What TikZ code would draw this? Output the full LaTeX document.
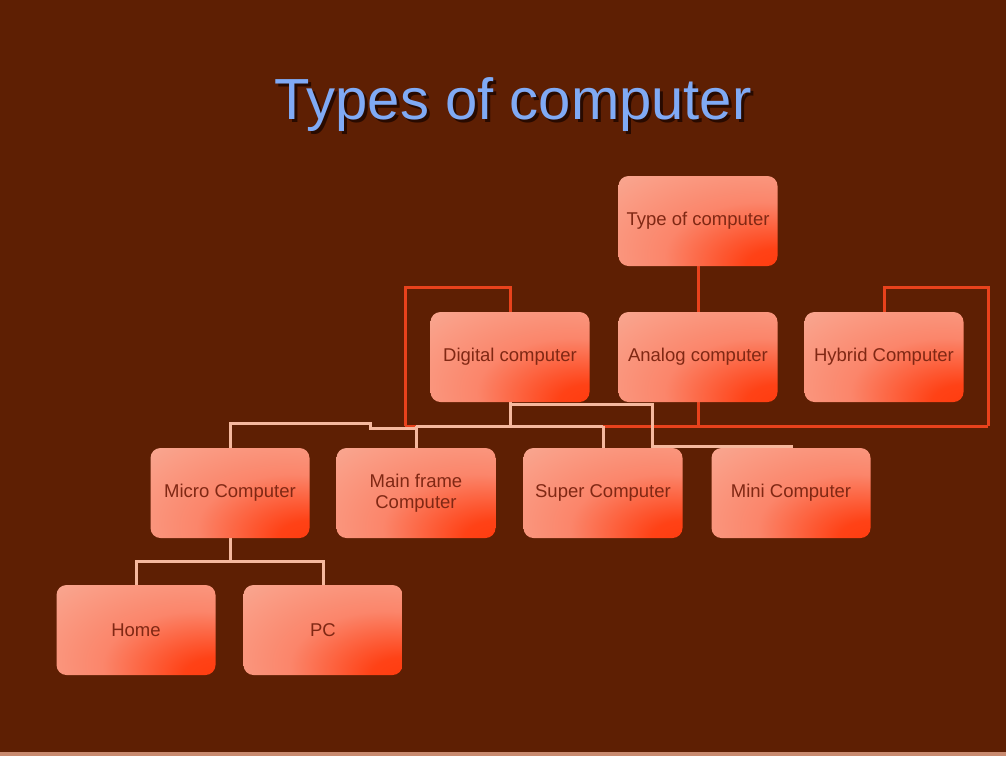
\documentclass[tikz,border=0pt]{standalone}
\usepackage{fontspec}
\setmainfont{Liberation Sans}
\definecolor{bg}{RGB}{94,31,3}
\definecolor{redline}{RGB}{232,66,28}
\definecolor{lightline}{RGB}{245,184,158}
\definecolor{boxdark}{RGB}{255,58,12}
\definecolor{boxmid}{RGB}{252,110,80}
\definecolor{boxlight}{RGB}{249,168,146}
\definecolor{boxtext}{RGB}{128,40,20}
\definecolor{titleblue}{RGB}{128,170,245}
\definecolor{titleshadow}{RGB}{40,10,0}
\pgfdeclareradialshading{boxshade}{\pgfpoint{28bp}{-28bp}}{color(0bp)=(boxdark); color(10bp)=(boxdark!85!boxmid); color(30bp)=(boxmid!60!boxlight); color(55bp)=(boxlight); color(100bp)=(boxlight)}
\newcommand{\shadowtext}[1]{\makebox[0pt][l]{\hspace{3pt}\raisebox{-3pt}{\color{titleshadow}#1}}#1}
\tikzset{
  cbox/.style={rounded corners=10pt, shading=boxshade, minimum width=159pt, minimum height=90pt,
    font=\fontsize{18.5}{21}\selectfont, text=boxtext, align=center, inner sep=2pt},
  redc/.style={draw=redline, line width=3pt},
  lightc/.style={draw=lightline, line width=3pt},
}
\begin{document}
\begin{tikzpicture}[x=1pt,y=-1pt]
\fill[bg] (0,0) rectangle (1006,756);
\useasboundingbox (0,0) rectangle (1006,756);
\fill[lightline!70!bg] (0,752) rectangle (1006,756);
% title
\node (title) [text=titleblue, font=\fontsize{58}{60}\selectfont] at (513,106) {\shadowtext{Types of computer}};
% coordinates for node centres
\coordinate (pr) at (698,221);
\coordinate (pd) at (510,357);
\coordinate (pa) at (698,357);
\coordinate (ph) at (884,357);
\coordinate (pmi) at (230,493);
\coordinate (pmf) at (416,493);
\coordinate (ps) at (603,493);
\coordinate (pmn) at (791,493);
\coordinate (pho) at (136,630);
\coordinate (ppc) at (323,630);
% bend points
\coordinate (hubL) at (405,426);
\coordinate (hubR) at (988,426);
\coordinate (topL) at (405,287);
\coordinate (topR) at (988,287);
\coordinate (busD) at (510,426);
\coordinate (stepA) at (370,428);
\coordinate (stepB) at (370,423);
\coordinate (mic) at (230,423);
\coordinate (miniA) at (510,404);
\coordinate (miniB) at (652,404);
\coordinate (miniC) at (652,446);
\coordinate (microBus) at (230,561);
% connectors (drawn first, boxes on top)
\draw[redc] (pr) -- (pa |- hubL);
\draw[redc] (hubL) -- (hubR);
\draw[redc] (hubL) -- (topL) -| (pd);
\draw[redc] (hubR) -- (topR) -| (ph);
\draw[lightc] (pd) -- (busD);
\draw[lightc] (pmf |- busD) -- (ps |- busD);
\draw[lightc] (pmf |- busD) -- (pmf);
\draw[lightc] (ps |- busD) -- (ps);
\draw[lightc] (pmf |- stepA) -- (stepA) -- (stepB) -- (mic) -- (pmi);
\draw[lightc] (miniA) -- (miniB) -- (miniC) -| (pmn);
\draw[lightc] (pmi) -- (microBus);
\draw[lightc] (pho) |- (microBus) -| (ppc);
% boxes
\node (root) [cbox] at (pr) {Type of computer};
\node (digital) [cbox] at (pd) {Digital computer};
\node (analog) [cbox] at (pa) {Analog computer};
\node (hybrid) [cbox] at (ph) {Hybrid Computer};
\node (micro) [cbox] at (pmi) {Micro Computer};
\node (mainframe) [cbox] at (pmf) {Main frame\\Computer};
\node (super) [cbox] at (ps) {Super Computer};
\node (mini) [cbox] at (pmn) {Mini Computer};
\node (home) [cbox] at (pho) {Home};
\node (pc) [cbox] at (ppc) {PC};
\end{tikzpicture}
\end{document}
